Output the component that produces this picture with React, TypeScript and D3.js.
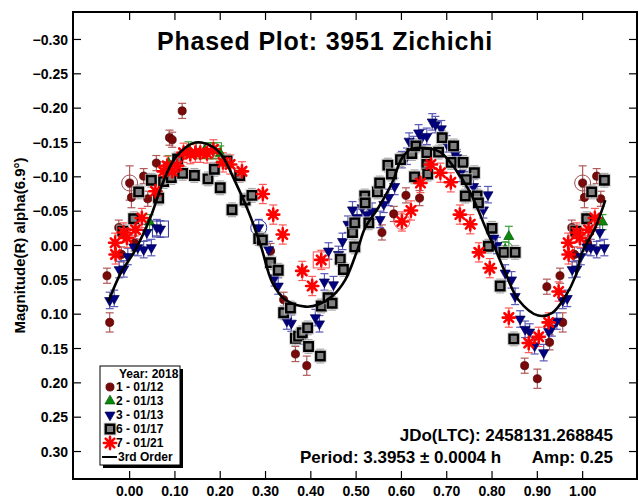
import * as d3 from 'd3';

// ---------------------------------------------------------------------------
// Data (phase 0..1, magnitude, optional error)
// ---------------------------------------------------------------------------

type Pt = [number, number, number?];

const s1: Pt[] = [
  [0.116, -0.196], [0.088, -0.157], [0.094, -0.154], [0.059, -0.120], [0.031, -0.101],
  [0.000, -0.091, 0.025], [0.004, -0.070, 0.015], [0.040, -0.068], [0.976, -0.026], [0.950, 0.044],
  [0.956, 0.112, 0.014], [0.982, 0.013], [0.011, -0.003], [0.311, 0.008], [0.340, 0.079],
  [0.366, 0.158], [0.391, 0.175, 0.014], [0.557, -0.019], [0.583, -0.046], [0.610, -0.073],
  [0.640, -0.069], [0.921, 0.060], [0.872, 0.175], [0.900, 0.194, 0.014], [0.927, 0.141],
];

const s2: Pt[] = [
  [0.044, -0.034], [0.086, -0.120], [0.130, -0.140], [0.165, -0.138], [0.185, -0.138],
  [0.200, -0.134], [0.837, -0.013, 0.015], [0.829, 0.006],
];

const s3: Pt[] = [
  [0.956, 0.080], [0.966, 0.077], [0.977, 0.035], [0.987, 0.034], [0.996, 0.016],
  [0.009, 0.002], [0.018, 0.003], [0.031, 0.006], [0.038, -0.019], [0.048, 0.003],
  [0.060, -0.026], [0.068, -0.024], [0.285, -0.026], [0.307, 0.006], [0.320, 0.047],
  [0.328, 0.059], [0.347, 0.110], [0.357, 0.113], [0.384, 0.132], [0.410, 0.105],
  [0.419, 0.114], [0.430, 0.053], [0.439, 0.008], [0.450, 0.057], [0.461, 0.013],
  [0.470, -0.006], [0.482, -0.031], [0.492, -0.052], [0.502, -0.041], [0.513, -0.055],
  [0.524, -0.045], [0.535, -0.050], [0.553, -0.038], [0.561, -0.060], [0.572, -0.070],
  [0.585, -0.086], [0.601, -0.125], [0.612, -0.130], [0.617, -0.152], [0.627, -0.147],
  [0.638, -0.164], [0.645, -0.157], [0.656, -0.159], [0.668, -0.180], [0.675, -0.176],
  [0.688, -0.170], [0.700, -0.148], [0.719, -0.133], [0.722, -0.128], [0.730, -0.105],
  [0.748, -0.096], [0.759, -0.086], [0.767, -0.074], [0.781, -0.052], [0.791, -0.074],
  [0.804, -0.011], [0.811, 0.000], [0.829, 0.040], [0.843, 0.050], [0.851, 0.074],
  [0.862, 0.107], [0.873, 0.122], [0.883, 0.126], [0.894, 0.146], [0.914, 0.156],
  [0.925, 0.125], [0.932, 0.120], [0.943, 0.110],
];

const s6: Pt[] = [
  [0.020, -0.078], [0.009, -0.039], [0.985, -0.021], [0.048, -0.095], [0.064, -0.069],
  [0.075, -0.093], [0.092, -0.099], [0.106, -0.126], [0.117, -0.105], [0.143, -0.102],
  [0.173, -0.097], [0.187, -0.111], [0.200, -0.084], [0.215, -0.123], [0.243, -0.102],
  [0.226, -0.052], [0.255, -0.066], [0.270, -0.073], [0.285, -0.010], [0.293, -0.008],
  [0.311, 0.025], [0.328, 0.036], [0.340, 0.098], [0.355, 0.091], [0.366, 0.135],
  [0.373, 0.132], [0.381, 0.127], [0.393, 0.120], [0.395, 0.147], [0.421, 0.161],
  [0.423, 0.088], [0.438, 0.076], [0.447, 0.084], [0.465, 0.020], [0.472, 0.035],
  [0.497, 0.002], [0.492, -0.019], [0.497, -0.033], [0.519, -0.072], [0.520, -0.062],
  [0.528, -0.033], [0.547, -0.078], [0.552, -0.091], [0.570, -0.117], [0.578, -0.104],
  [0.598, -0.125], [0.623, -0.134], [0.632, -0.145], [0.629, -0.100], [0.656, -0.135],
  [0.656, -0.118], [0.658, -0.104], [0.682, -0.136], [0.690, -0.157], [0.715, -0.145],
  [0.710, -0.121], [0.736, -0.121], [0.761, -0.106], [0.743, -0.096], [0.767, -0.072],
  [0.741, -0.072], [0.770, -0.062], [0.800, -0.025], [0.792, 0.001], [0.818, 0.059],
  [0.848, 0.136], [0.826, 0.010], [0.851, 0.010],
];

const s7: Pt[] = [
  [0.987, -0.019], [0.994, -0.011], [0.013, -0.023], [0.027, -0.040], [0.057, -0.079],
  [0.075, -0.108], [0.094, -0.108], [0.083, -0.116], [0.105, -0.116], [0.119, -0.135],
  [0.134, -0.133], [0.145, -0.135], [0.156, -0.135], [0.171, -0.134], [0.185, -0.140],
  [0.206, -0.121], [0.222, -0.118], [0.248, -0.108], [0.294, -0.075], [0.317, -0.045],
  [0.338, -0.016], [0.968, -0.004], [0.969, 0.013], [0.381, 0.037], [0.403, 0.059],
  [0.423, 0.021], [0.601, -0.035], [0.621, -0.051], [0.642, -0.091], [0.665, -0.118],
  [0.686, -0.106], [0.709, -0.092], [0.729, -0.045], [0.752, -0.031], [0.771, 0.010],
  [0.795, 0.033], [0.837, 0.105], [0.881, 0.142], [0.903, 0.133], [0.925, 0.112],
  [0.947, 0.067],
];

// 3rd order fit
const fitCurve: [number, number][] = [
  [-0.047, 0.082], [-0.021, 0.042], [0.013, 0.006], [0.046, -0.041], [0.072, -0.089],
  [0.101, -0.128], [0.145, -0.150], [0.183, -0.144], [0.205, -0.130], [0.233, -0.093],
  [0.262, -0.050], [0.289, -0.001], [0.315, 0.054], [0.344, 0.079], [0.388, 0.089],
  [0.417, 0.086], [0.447, 0.074], [0.476, 0.050], [0.503, 0.006], [0.520, -0.026],
  [0.549, -0.055], [0.580, -0.092], [0.600, -0.126], [0.620, -0.140], [0.664, -0.141],
  [0.686, -0.136], [0.715, -0.115], [0.752, -0.077], [0.790, -0.019], [0.803, -0.001],
  [0.829, 0.039], [0.858, 0.079], [0.902, 0.102], [0.933, 0.098], [0.962, 0.074],
  [0.984, 0.045], [0.999, 0.010], [1.028, -0.026], [1.050, -0.066],
];

// highlighted (ringed / boxed) observations
const ringed: { phase: number; mag: number; shape: 'circle' | 'square'; color: string }[] = [
  { phase: 0.000, mag: -0.091, shape: 'circle', color: '#a05050' },
  { phase: 1.000, mag: -0.091, shape: 'circle', color: '#a05050' },
  { phase: 0.068, mag: -0.024, shape: 'square', color: '#3030a0' },
  { phase: 0.285, mag: -0.026, shape: 'circle', color: '#3030a0' },
  { phase: 0.165, mag: -0.138, shape: 'square', color: '#2a9a2a' },
  { phase: 0.185, mag: -0.138, shape: 'square', color: '#2a9a2a' },
  { phase: 0.829, mag: 0.006, shape: 'circle', color: '#2a9a2a' },
  { phase: 0.423, mag: 0.021, shape: 'square', color: '#ff5050' },
  { phase: 0.601, mag: -0.035, shape: 'circle', color: '#ff5050' },
];

const xTicks = [0, 0.1, 0.2, 0.3, 0.4, 0.5, 0.6, 0.7, 0.8, 0.9, 1.0];
const yTicks = [-0.3, -0.25, -0.2, -0.15, -0.1, -0.05, 0, 0.05, 0.1, 0.15, 0.2, 0.25, 0.3];

const legendLabels = ['1 - 01/12', '2 - 01/13', '3 - 01/13', '6 - 01/17', '7 - 01/21', '3rd Order'];

// ---------------------------------------------------------------------------
// Styles
// ---------------------------------------------------------------------------

type Kind = 'circle' | 'triUp' | 'triDown' | 'square' | 'star';

const SERIES: { data: Pt[]; kind: Kind; fill: string; stroke: string; err: string; e: number }[] = [
  { data: s1, kind: 'circle', fill: '#7a0a0a', stroke: '#4a0000', err: '#b05a5a', e: 0.011 },
  { data: s2, kind: 'triUp', fill: '#0a8a0a', stroke: '#005000', err: '#3aa03a', e: 0.011 },
  { data: s3, kind: 'triDown', fill: '#000080', stroke: '#000050', err: '#5a5ab8', e: 0.012 },
  { data: s6, kind: 'square', fill: '#808080', stroke: '#000000', err: '#a8a8a8', e: 0.010 },
  { data: s7, kind: 'star', fill: '#ff0000', stroke: '#ff0000', err: '#ff5a5a', e: 0.014 },
];

const FONT = '"Liberation Sans", Arial, sans-serif';

const W = 639;
const H = 500;
const frame = { left: 73, right: 637, top: 12, bottom: 479 };

const x = d3.scaleLinear().domain([-0.125, 1.12]).range([frame.left, frame.right]);
const y = d3.scaleLinear().domain([-0.34, 0.34]).range([frame.top, frame.bottom]);

// phased plot repeats the ends of the cycle
function wrap(pts: Pt[]): Pt[] {
  const out: Pt[] = [...pts];
  pts.forEach((p) => {
    if (p[0] <= 0.05) out.push([p[0] + 1, p[1], p[2]]);
    if (p[0] >= 0.949) out.push([p[0] - 1, p[1], p[2]]);
  });
  return out;
}

const starType = {
  draw(ctx: any, size: number) {
    const r = Math.sqrt(size) / 2;
    const d = r * Math.SQRT1_2;
    ctx.moveTo(-r, 0); ctx.lineTo(r, 0);
    ctx.moveTo(0, -r); ctx.lineTo(0, r);
    ctx.moveTo(-d, -d); ctx.lineTo(d, d);
    ctx.moveTo(-d, d); ctx.lineTo(d, -d);
  },
};

const symPath: Record<Kind, string> = {
  circle: d3.symbol(d3.symbolCircle, 52)() as string,
  triUp: d3.symbol(d3.symbolTriangle, 44)() as string,
  triDown: d3.symbol(d3.symbolTriangle, 44)() as string,
  square: d3.symbol(d3.symbolSquare, 72)() as string,
  star: d3.symbol(starType as any, 150)() as string,
};

function Marker({ kind, cx, cy, fill, stroke }: { kind: Kind; cx: number; cy: number; fill: string; stroke: string }) {
  const t = `translate(${cx},${cy})${kind === 'triDown' ? ' rotate(180)' : ''}`;
  if (kind === 'star') {
    return <path d={symPath.star} transform={t} fill="none" stroke={stroke} strokeWidth={2.6} strokeLinecap="round" />;
  }
  if (kind === 'square') {
    return (
      <g transform={t}>
        <rect x={-6.5} y={-6.5} width={13} height={13} fill="#c8c8c8" opacity={0.7} />
        <path d={symPath.square} fill={fill} stroke={stroke} strokeWidth={2.4} />
      </g>
    );
  }
  return <path d={symPath[kind]} transform={t} fill={fill} stroke={stroke} strokeWidth={0.7} />;
}

export default function App() {
  const line = d3.line<[number, number]>()
    .x((d) => x(d[0]))
    .y((d) => y(d[1]))
    .curve(d3.curveCatmullRom.alpha(0.5));

  const fmt = d3.format('.2f');
  const legendX = 100;
  const legendY = 366;
  const rowH = 14;

  return (
    <div style={{ position: 'fixed', left: 0, top: 0 }}>
      <svg width={W} height={H} style={{ display: 'block', background: '#fff' }} fontFamily={FONT} fontWeight="bold">
        <rect x={0} y={0} width={W} height={H} fill="#fff" />

        {/* error bars */}
        {SERIES.map((s, si) => (
          <g key={`e${si}`} stroke={s.err} strokeWidth={1.2}>
            {wrap(s.data).map((p, i) => {
              const e = p[2] ?? s.e;
              const cx = x(p[0]);
              const y0 = y(p[1] - e);
              const y1 = y(p[1] + e);
              return (
                <g key={i}>
                  <line x1={cx} x2={cx} y1={y0} y2={y1} />
                  <line x1={cx - 4} x2={cx + 4} y1={y0} y2={y0} />
                  <line x1={cx - 4} x2={cx + 4} y1={y1} y2={y1} />
                </g>
              );
            })}
          </g>
        ))}

        {/* ringed points */}
        {ringed.map((r, i) =>
          r.shape === 'circle' ? (
            <circle key={`r${i}`} cx={x(r.phase)} cy={y(r.mag)} r={8} fill="none" stroke={r.color} strokeWidth={1} />
          ) : (
            <rect key={`r${i}`} x={x(r.phase) - 8} y={y(r.mag) - 8} width={16} height={16} fill="none" stroke={r.color} strokeWidth={1} />
          )
        )}

        {/* markers */}
        {SERIES.map((s, si) => (
          <g key={`m${si}`}>
            {wrap(s.data).map((p, i) => (
              <Marker key={i} kind={s.kind} cx={x(p[0])} cy={y(p[1])} fill={s.fill} stroke={s.stroke} />
            ))}
          </g>
        ))}

        {/* fit */}
        <path d={line(fitCurve) as string} fill="none" stroke="#000" strokeWidth={2.6} />

        {/* frame and ticks */}
        <rect x={frame.left} y={frame.top} width={frame.right - frame.left} height={frame.bottom - frame.top}
          fill="none" stroke="#000" strokeWidth={2} />
        {xTicks.map((t) => (
          <g key={`xt${t}`} stroke="#000" strokeWidth={1.2}>
            <line x1={x(t)} x2={x(t)} y1={frame.top} y2={frame.top + 8} />
            <line x1={x(t)} x2={x(t)} y1={frame.bottom} y2={frame.bottom - 8} />
          </g>
        ))}
        {yTicks.map((t) => (
          <g key={`yt${t}`} stroke="#000" strokeWidth={1.2}>
            <line x1={frame.left} x2={frame.left + 8} y1={y(t)} y2={y(t)} />
            <line x1={frame.right} x2={frame.right - 8} y1={y(t)} y2={y(t)} />
          </g>
        ))}
        {xTicks.map((t) => (
          <text key={`xl${t}`} x={x(t)} y={496} textAnchor="middle" fontSize={14}>{fmt(t)}</text>
        ))}
        {yTicks.map((t) => (
          <text key={`yl${t}`} x={68} y={y(t)} dy="0.36em" textAnchor="end" fontSize={14}>
            {fmt(Math.abs(t) < 1e-9 ? 0 : t)}
          </text>
        ))}

        <text transform={`translate(25,${y(0)}) rotate(-90)`} textAnchor="middle" fontSize={15}>
          Magnitude(R) alpha(6.9°)
        </text>

        {/* title */}
        <text x={325} y={50} textAnchor="middle" fontSize={25} letterSpacing={0.8}>Phased Plot: 3951 Zichichi</text>

        {/* fit info */}
        <text x={613} y={441} textAnchor="end" fontSize={17}>JDo(LTC): 2458131.268845</text>
        <text x={300} y={463} fontSize={17}>Period: 3.3953 ± 0.0004 h</text>
        <text x={613} y={463} textAnchor="end" fontSize={17}>Amp: 0.25</text>

        {/* legend */}
        <rect x={legendX + 3} y={legendY + 3} width={80} height={99} fill="#000" />
        <rect x={legendX} y={legendY} width={80} height={99} fill="#fff" stroke="#000" strokeWidth={1} />
        <text x={legendX + 19} y={legendY + 12} fontSize={12}>Year: 2018</text>
        {legendLabels.map((lab, i) => {
          const cy = legendY + 21 + i * rowH;
          const s = SERIES[i];
          return (
            <g key={lab}>
              {s ? (
                <Marker kind={s.kind} cx={legendX + 10} cy={cy} fill={s.fill} stroke={s.stroke} />
              ) : (
                <line x1={legendX + 2} x2={legendX + 17} y1={cy} y2={cy} stroke="#000" strokeWidth={2} />
              )}
              <text x={legendX + (s ? 16 : 18)} y={cy} dy="0.36em" fontSize={12}>{lab}</text>
            </g>
          );
        })}
      </svg>
    </div>
  );
}
